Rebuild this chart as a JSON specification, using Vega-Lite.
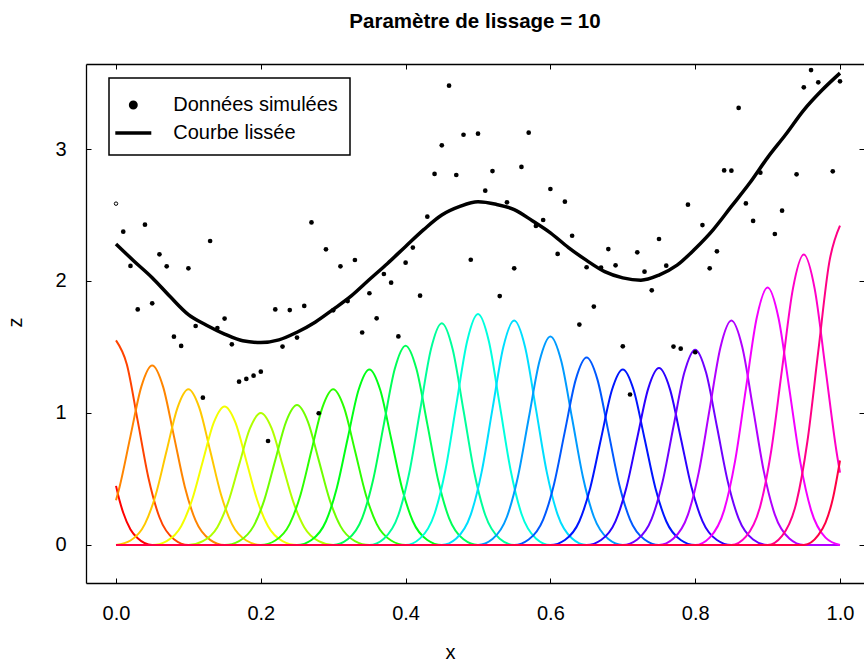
{
  "$schema": "https://vega.github.io/schema/vega-lite/v6.json",
  "width": 778,
  "height": 519,
  "autosize": "none",
  "padding": {"left": 86, "top": 64, "right": 0, "bottom": 82},
  "background": "white",
  "title": {"text": "Paramètre de lissage = 10", "font": "Liberation Sans", "fontSize": 20.5, "fontWeight": "bold", "color": "black", "anchor": "middle", "baseline": "alphabetic", "offset": 15},
  "config": {
    "view": {"stroke": null},
    "axis": {"grid": false, "domainColor": "black", "domainWidth": 1.3, "tickColor": "black", "tickWidth": 1, "tickSize": -5, "labelFont": "Liberation Sans", "labelFontSize": 20, "labelColor": "black", "titleFont": "Liberation Sans", "titleFontSize": 20, "titleFontWeight": "normal", "titleColor": "black"}
  },
  "datasets": {
    "basis": [
      {"i":0,"x":0,"z":0.448},{"i":0,"x":0.005,"z":0.335},{"i":0,"x":0.01,"z":0.244},{"i":0,"x":0.02,"z":0.118},{"i":0,"x":0.03,"z":0.051},{"i":0,"x":0.05,"z":0},{"i":0,"x":1,"z":0},
      {"i":1,"x":0,"z":1.55},{"i":1,"x":0.015,"z":1.368},{"i":1,"x":0.03,"z":0.94},{"i":1,"x":0.045,"z":0.503},{"i":1,"x":0.06,"z":0.21},{"i":1,"x":0.08,"z":0.044},{"i":1,"x":0.1,"z":0},{"i":1,"x":1,"z":0},
      {"i":2,"x":0,"z":0.339},{"i":2,"x":0.005,"z":0.442},{"i":2,"x":0.02,"z":0.825},{"i":2,"x":0.035,"z":1.2},{"i":2,"x":0.05,"z":1.36},{"i":2,"x":0.065,"z":1.2},{"i":2,"x":0.08,"z":0.825},{"i":2,"x":0.095,"z":0.442},{"i":2,"x":0.11,"z":0.184},{"i":2,"x":0.13,"z":0.039},{"i":2,"x":0.15,"z":0},{"i":2,"x":1,"z":0},
      {"i":3,"x":0,"z":0},{"i":3,"x":0.02,"z":0.034},{"i":3,"x":0.04,"z":0.16},{"i":3,"x":0.055,"z":0.383},{"i":3,"x":0.07,"z":0.716},{"i":3,"x":0.085,"z":1.041},{"i":3,"x":0.1,"z":1.18},{"i":3,"x":0.115,"z":1.041},{"i":3,"x":0.13,"z":0.716},{"i":3,"x":0.145,"z":0.383},{"i":3,"x":0.16,"z":0.16},{"i":3,"x":0.18,"z":0.034},{"i":3,"x":0.2,"z":0},{"i":3,"x":1,"z":0},
      {"i":4,"x":0,"z":0},{"i":4,"x":0.05,"z":0},{"i":4,"x":0.07,"z":0.03},{"i":4,"x":0.09,"z":0.142},{"i":4,"x":0.105,"z":0.341},{"i":4,"x":0.12,"z":0.637},{"i":4,"x":0.135,"z":0.927},{"i":4,"x":0.15,"z":1.05},{"i":4,"x":0.165,"z":0.927},{"i":4,"x":0.18,"z":0.637},{"i":4,"x":0.195,"z":0.341},{"i":4,"x":0.21,"z":0.142},{"i":4,"x":0.23,"z":0.03},{"i":4,"x":0.25,"z":0},{"i":4,"x":1,"z":0},
      {"i":5,"x":0,"z":0},{"i":5,"x":0.1,"z":0},{"i":5,"x":0.12,"z":0.029},{"i":5,"x":0.14,"z":0.135},{"i":5,"x":0.155,"z":0.325},{"i":5,"x":0.17,"z":0.607},{"i":5,"x":0.185,"z":0.883},{"i":5,"x":0.2,"z":1.0},{"i":5,"x":0.215,"z":0.883},{"i":5,"x":0.23,"z":0.607},{"i":5,"x":0.245,"z":0.325},{"i":5,"x":0.26,"z":0.135},{"i":5,"x":0.28,"z":0.029},{"i":5,"x":0.3,"z":0},{"i":5,"x":1,"z":0},
      {"i":6,"x":0,"z":0},{"i":6,"x":0.15,"z":0},{"i":6,"x":0.17,"z":0.03},{"i":6,"x":0.19,"z":0.143},{"i":6,"x":0.205,"z":0.344},{"i":6,"x":0.22,"z":0.643},{"i":6,"x":0.235,"z":0.935},{"i":6,"x":0.25,"z":1.06},{"i":6,"x":0.265,"z":0.935},{"i":6,"x":0.28,"z":0.643},{"i":6,"x":0.295,"z":0.344},{"i":6,"x":0.31,"z":0.143},{"i":6,"x":0.33,"z":0.03},{"i":6,"x":0.35,"z":0},{"i":6,"x":1,"z":0},
      {"i":7,"x":0,"z":0},{"i":7,"x":0.2,"z":0},{"i":7,"x":0.22,"z":0.034},{"i":7,"x":0.24,"z":0.16},{"i":7,"x":0.255,"z":0.383},{"i":7,"x":0.27,"z":0.716},{"i":7,"x":0.285,"z":1.041},{"i":7,"x":0.3,"z":1.18},{"i":7,"x":0.315,"z":1.041},{"i":7,"x":0.33,"z":0.716},{"i":7,"x":0.345,"z":0.383},{"i":7,"x":0.36,"z":0.16},{"i":7,"x":0.38,"z":0.034},{"i":7,"x":0.4,"z":0},{"i":7,"x":1,"z":0},
      {"i":8,"x":0,"z":0},{"i":8,"x":0.25,"z":0},{"i":8,"x":0.27,"z":0.038},{"i":8,"x":0.29,"z":0.18},{"i":8,"x":0.305,"z":0.432},{"i":8,"x":0.32,"z":0.807},{"i":8,"x":0.335,"z":1.174},{"i":8,"x":0.35,"z":1.33},{"i":8,"x":0.365,"z":1.174},{"i":8,"x":0.38,"z":0.807},{"i":8,"x":0.395,"z":0.432},{"i":8,"x":0.41,"z":0.18},{"i":8,"x":0.43,"z":0.038},{"i":8,"x":0.45,"z":0},{"i":8,"x":1,"z":0},
      {"i":9,"x":0,"z":0},{"i":9,"x":0.3,"z":0},{"i":9,"x":0.32,"z":0.043},{"i":9,"x":0.34,"z":0.204},{"i":9,"x":0.355,"z":0.49},{"i":9,"x":0.37,"z":0.916},{"i":9,"x":0.385,"z":1.333},{"i":9,"x":0.4,"z":1.51},{"i":9,"x":0.415,"z":1.333},{"i":9,"x":0.43,"z":0.916},{"i":9,"x":0.445,"z":0.49},{"i":9,"x":0.46,"z":0.204},{"i":9,"x":0.48,"z":0.043},{"i":9,"x":0.5,"z":0},{"i":9,"x":1,"z":0},
      {"i":10,"x":0,"z":0},{"i":10,"x":0.35,"z":0},{"i":10,"x":0.37,"z":0.048},{"i":10,"x":0.39,"z":0.227},{"i":10,"x":0.405,"z":0.545},{"i":10,"x":0.42,"z":1.019},{"i":10,"x":0.435,"z":1.483},{"i":10,"x":0.45,"z":1.68},{"i":10,"x":0.465,"z":1.483},{"i":10,"x":0.48,"z":1.019},{"i":10,"x":0.495,"z":0.545},{"i":10,"x":0.51,"z":0.227},{"i":10,"x":0.53,"z":0.048},{"i":10,"x":0.55,"z":0},{"i":10,"x":1,"z":0},
      {"i":11,"x":0,"z":0},{"i":11,"x":0.4,"z":0},{"i":11,"x":0.42,"z":0.05},{"i":11,"x":0.44,"z":0.237},{"i":11,"x":0.455,"z":0.568},{"i":11,"x":0.47,"z":1.061},{"i":11,"x":0.485,"z":1.544},{"i":11,"x":0.5,"z":1.75},{"i":11,"x":0.515,"z":1.544},{"i":11,"x":0.53,"z":1.061},{"i":11,"x":0.545,"z":0.568},{"i":11,"x":0.56,"z":0.237},{"i":11,"x":0.58,"z":0.05},{"i":11,"x":0.6,"z":0},{"i":11,"x":1,"z":0},
      {"i":12,"x":0,"z":0},{"i":12,"x":0.45,"z":0},{"i":12,"x":0.47,"z":0.049},{"i":12,"x":0.49,"z":0.23},{"i":12,"x":0.505,"z":0.552},{"i":12,"x":0.52,"z":1.031},{"i":12,"x":0.535,"z":1.5},{"i":12,"x":0.55,"z":1.7},{"i":12,"x":0.565,"z":1.5},{"i":12,"x":0.58,"z":1.031},{"i":12,"x":0.595,"z":0.552},{"i":12,"x":0.61,"z":0.23},{"i":12,"x":0.63,"z":0.049},{"i":12,"x":0.65,"z":0},{"i":12,"x":1,"z":0},
      {"i":13,"x":0,"z":0},{"i":13,"x":0.5,"z":0},{"i":13,"x":0.52,"z":0.045},{"i":13,"x":0.54,"z":0.214},{"i":13,"x":0.555,"z":0.513},{"i":13,"x":0.57,"z":0.958},{"i":13,"x":0.585,"z":1.394},{"i":13,"x":0.6,"z":1.58},{"i":13,"x":0.615,"z":1.394},{"i":13,"x":0.63,"z":0.958},{"i":13,"x":0.645,"z":0.513},{"i":13,"x":0.66,"z":0.214},{"i":13,"x":0.68,"z":0.045},{"i":13,"x":0.7,"z":0},{"i":13,"x":1,"z":0},
      {"i":14,"x":0,"z":0},{"i":14,"x":0.55,"z":0},{"i":14,"x":0.57,"z":0.041},{"i":14,"x":0.59,"z":0.192},{"i":14,"x":0.605,"z":0.461},{"i":14,"x":0.62,"z":0.861},{"i":14,"x":0.635,"z":1.253},{"i":14,"x":0.65,"z":1.42},{"i":14,"x":0.665,"z":1.253},{"i":14,"x":0.68,"z":0.861},{"i":14,"x":0.695,"z":0.461},{"i":14,"x":0.71,"z":0.192},{"i":14,"x":0.73,"z":0.041},{"i":14,"x":0.75,"z":0},{"i":14,"x":1,"z":0},
      {"i":15,"x":0,"z":0},{"i":15,"x":0.6,"z":0},{"i":15,"x":0.62,"z":0.038},{"i":15,"x":0.64,"z":0.18},{"i":15,"x":0.655,"z":0.432},{"i":15,"x":0.67,"z":0.807},{"i":15,"x":0.685,"z":1.174},{"i":15,"x":0.7,"z":1.33},{"i":15,"x":0.715,"z":1.174},{"i":15,"x":0.73,"z":0.807},{"i":15,"x":0.745,"z":0.432},{"i":15,"x":0.76,"z":0.18},{"i":15,"x":0.78,"z":0.038},{"i":15,"x":0.8,"z":0},{"i":15,"x":1,"z":0},
      {"i":16,"x":0,"z":0},{"i":16,"x":0.65,"z":0},{"i":16,"x":0.67,"z":0.038},{"i":16,"x":0.69,"z":0.181},{"i":16,"x":0.705,"z":0.435},{"i":16,"x":0.72,"z":0.813},{"i":16,"x":0.735,"z":1.183},{"i":16,"x":0.75,"z":1.34},{"i":16,"x":0.765,"z":1.183},{"i":16,"x":0.78,"z":0.813},{"i":16,"x":0.795,"z":0.435},{"i":16,"x":0.81,"z":0.181},{"i":16,"x":0.83,"z":0.038},{"i":16,"x":0.85,"z":0},{"i":16,"x":1,"z":0},
      {"i":17,"x":0,"z":0},{"i":17,"x":0.7,"z":0},{"i":17,"x":0.72,"z":0.042},{"i":17,"x":0.74,"z":0.2},{"i":17,"x":0.755,"z":0.481},{"i":17,"x":0.77,"z":0.898},{"i":17,"x":0.785,"z":1.306},{"i":17,"x":0.8,"z":1.48},{"i":17,"x":0.815,"z":1.306},{"i":17,"x":0.83,"z":0.898},{"i":17,"x":0.845,"z":0.481},{"i":17,"x":0.86,"z":0.2},{"i":17,"x":0.88,"z":0.042},{"i":17,"x":0.9,"z":0},{"i":17,"x":1,"z":0},
      {"i":18,"x":0,"z":0},{"i":18,"x":0.75,"z":0},{"i":18,"x":0.77,"z":0.049},{"i":18,"x":0.79,"z":0.23},{"i":18,"x":0.805,"z":0.552},{"i":18,"x":0.82,"z":1.031},{"i":18,"x":0.835,"z":1.5},{"i":18,"x":0.85,"z":1.7},{"i":18,"x":0.865,"z":1.5},{"i":18,"x":0.88,"z":1.031},{"i":18,"x":0.895,"z":0.552},{"i":18,"x":0.91,"z":0.23},{"i":18,"x":0.93,"z":0.049},{"i":18,"x":0.95,"z":0},{"i":18,"x":1,"z":0},
      {"i":19,"x":0,"z":0},{"i":19,"x":0.8,"z":0},{"i":19,"x":0.82,"z":0.056},{"i":19,"x":0.84,"z":0.264},{"i":19,"x":0.855,"z":0.633},{"i":19,"x":0.87,"z":1.183},{"i":19,"x":0.885,"z":1.721},{"i":19,"x":0.9,"z":1.95},{"i":19,"x":0.915,"z":1.721},{"i":19,"x":0.93,"z":1.183},{"i":19,"x":0.945,"z":0.633},{"i":19,"x":0.96,"z":0.264},{"i":19,"x":0.98,"z":0.056},{"i":19,"x":1,"z":0},
      {"i":20,"x":0,"z":0},{"i":20,"x":0.85,"z":0},{"i":20,"x":0.87,"z":0.063},{"i":20,"x":0.89,"z":0.298},{"i":20,"x":0.905,"z":0.714},{"i":20,"x":0.92,"z":1.334},{"i":20,"x":0.935,"z":1.942},{"i":20,"x":0.95,"z":2.2},{"i":20,"x":0.965,"z":1.942},{"i":20,"x":0.98,"z":1.334},{"i":20,"x":0.995,"z":0.714},{"i":20,"x":1,"z":0.548},
      {"i":21,"x":0,"z":0},{"i":21,"x":0.9,"z":0},{"i":21,"x":0.92,"z":0.069},{"i":21,"x":0.94,"z":0.327},{"i":21,"x":0.955,"z":0.786},{"i":21,"x":0.97,"z":1.468},{"i":21,"x":0.985,"z":2.136},{"i":21,"x":1,"z":2.42},
      {"i":22,"x":0,"z":0},{"i":22,"x":0.95,"z":0},{"i":22,"x":0.97,"z":0.074},{"i":22,"x":0.98,"z":0.169},{"i":22,"x":0.99,"z":0.348},{"i":22,"x":1,"z":0.64}
    ],
    "smooth": [
      {"x":0,"z":2.28},{"x":0.025,"z":2.15},{"x":0.05,"z":2.025},{"x":0.075,"z":1.88},{"x":0.1,"z":1.745},{"x":0.125,"z":1.665},{"x":0.15,"z":1.598},{"x":0.175,"z":1.547},{"x":0.2,"z":1.534},{"x":0.225,"z":1.554},{"x":0.25,"z":1.612},{"x":0.275,"z":1.688},{"x":0.3,"z":1.785},{"x":0.325,"z":1.887},{"x":0.35,"z":2.011},{"x":0.375,"z":2.133},{"x":0.4,"z":2.262},{"x":0.425,"z":2.389},{"x":0.45,"z":2.5},{"x":0.475,"z":2.565},{"x":0.5,"z":2.6},{"x":0.525,"z":2.581},{"x":0.55,"z":2.541},{"x":0.575,"z":2.457},{"x":0.6,"z":2.365},{"x":0.625,"z":2.253},{"x":0.65,"z":2.156},{"x":0.675,"z":2.071},{"x":0.7,"z":2.024},{"x":0.725,"z":2.006},{"x":0.75,"z":2.045},{"x":0.775,"z":2.12},{"x":0.8,"z":2.245},{"x":0.825,"z":2.39},{"x":0.85,"z":2.565},{"x":0.875,"z":2.74},{"x":0.9,"z":2.935},{"x":0.925,"z":3.11},{"x":0.95,"z":3.295},{"x":0.975,"z":3.445},{"x":1,"z":3.575}
    ],
    "pts": [
      {"x":0.01,"z":2.374},{"x":0.02,"z":2.114},{"x":0.03,"z":1.785},{"x":0.04,"z":2.427},{"x":0.05,"z":1.831},{"x":0.06,"z":2.202},{"x":0.07,"z":2.111},{"x":0.08,"z":1.578},{"x":0.09,"z":1.508},{"x":0.1,"z":2.096},
      {"x":0.11,"z":1.659},{"x":0.12,"z":1.116},{"x":0.13,"z":2.303},{"x":0.14,"z":1.644},{"x":0.15,"z":1.715},{"x":0.16,"z":1.52},{"x":0.17,"z":1.237},{"x":0.18,"z":1.258},{"x":0.19,"z":1.283},{"x":0.2,"z":1.313},
      {"x":0.21,"z":0.788},{"x":0.22,"z":1.785},{"x":0.23,"z":1.503},{"x":0.24,"z":1.78},{"x":0.25,"z":1.571},{"x":0.26,"z":1.811},{"x":0.27,"z":2.444},{"x":0.28,"z":0.998},{"x":0.29,"z":2.24},{"x":0.3,"z":1.778},
      {"x":0.31,"z":2.111},{"x":0.32,"z":1.848},{"x":0.33,"z":2.159},{"x":0.34,"z":1.61},{"x":0.35,"z":1.907},{"x":0.36,"z":1.717},{"x":0.37,"z":2.053},{"x":0.38,"z":1.987},{"x":0.39,"z":1.58},{"x":0.4,"z":2.139},
      {"x":0.41,"z":2.253},{"x":0.42,"z":1.889},{"x":0.43,"z":2.487},{"x":0.44,"z":2.811},{"x":0.45,"z":3.028},{"x":0.46,"z":3.48},{"x":0.47,"z":2.803},{"x":0.48,"z":3.108},{"x":0.49,"z":2.161},{"x":0.5,"z":3.116},
      {"x":0.51,"z":2.684},{"x":0.52,"z":2.833},{"x":0.53,"z":1.886},{"x":0.54,"z":2.596},{"x":0.55,"z":2.096},{"x":0.56,"z":2.864},{"x":0.57,"z":3.124},{"x":0.58,"z":2.417},{"x":0.59,"z":2.462},{"x":0.6,"z":2.697},
      {"x":0.61,"z":2.205},{"x":0.62,"z":2.601},{"x":0.63,"z":2.343},{"x":0.64,"z":1.67},{"x":0.65,"z":2.104},{"x":0.66,"z":1.806},{"x":0.67,"z":2.101},{"x":0.68,"z":2.242},{"x":0.69,"z":2.119},{"x":0.7,"z":1.505},
      {"x":0.71,"z":1.14},{"x":0.72,"z":2.217},{"x":0.73,"z":2.071},{"x":0.74,"z":1.929},{"x":0.75,"z":2.318},{"x":0.76,"z":2.116},{"x":0.77,"z":1.503},{"x":0.78,"z":1.487},{"x":0.79,"z":2.578},{"x":0.8,"z":1.46},
      {"x":0.81,"z":2.424},{"x":0.82,"z":2.096},{"x":0.83,"z":2.225},{"x":0.84,"z":2.838},{"x":0.85,"z":2.836},{"x":0.86,"z":3.311},{"x":0.87,"z":2.588},{"x":0.88,"z":2.455},{"x":0.89,"z":2.821},
      {"x":0.91,"z":2.356},{"x":0.92,"z":2.533},{"x":0.94,"z":2.808},{"x":0.95,"z":3.467},{"x":0.96,"z":3.598},{"x":0.97,"z":3.505},{"x":0.99,"z":2.831},{"x":1.0,"z":3.513}
    ],
    "first": [{"x":0,"z":2.586}]
  },
  "layer": [
    {
      "data": {"name": "basis"},
      "mark": {"type": "line", "strokeWidth": 2, "interpolate": "monotone"},
      "encoding": {
        "x": {"field": "x", "type": "quantitative", "scale": {"domain": [-0.04144, 1.03315], "nice": false, "zero": false},
              "axis": {"orient": "bottom", "values": [0, 0.2, 0.4, 0.6, 0.8, 1], "format": ".1f", "labelPadding": 25, "labelFlush": false, "labelOverlap": false, "title": "x", "titleX": 364, "titleY": 69, "titleBaseline": "middle", "titleAlign": "center"}},
        "y": {"field": "z", "type": "quantitative", "scale": {"domain": [-0.288, 3.644], "nice": false, "zero": false},
              "axis": {"orient": "left", "values": [0, 1, 2, 3], "format": "d", "labelPadding": 25, "labelAngle": 0, "labelFlush": false, "labelOverlap": false, "title": "z", "titleX": -71, "titleY": 258, "titleAngle": 270, "titleBaseline": "middle", "titleAlign": "center"}},
        "stroke": {"field": "i", "type": "nominal", "legend": null,
                   "scale": {"domain": [0,1,2,3,4,5,6,7,8,9,10,11,12,13,14,15,16,17,18,19,20,21,22],
                             "range": ["#FF0000","#FF4300","#FF8500","#FFC800","#F4FF00","#B1FF00","#6FFF00","#2CFF00","#00FF16","#00FF59","#00FF9B","#00FFDE","#00DEFF","#009BFF","#0059FF","#0016FF","#2C00FF","#6F00FF","#B100FF","#F400FF","#FF00C8","#FF0085","#FF0043"]}}
      }
    },
    {
      "data": {"name": "smooth"},
      "mark": {"type": "line", "strokeWidth": 3.5, "interpolate": "monotone"},
      "encoding": {
        "x": {"field": "x", "type": "quantitative", "scale": {"domain": [-0.04144, 1.03315], "nice": false, "zero": false},
              "axis": {"orient": "top", "values": [0, 0.2, 0.4, 0.6, 0.8, 1], "labels": false, "title": null}},
        "y": {"field": "z", "type": "quantitative", "scale": {"domain": [-0.288, 3.644], "nice": false, "zero": false},
              "axis": {"orient": "right", "values": [0, 1, 2, 3], "labels": false, "domain": false, "title": null}},
        "color": {"datum": "Courbe lissée",
                  "scale": {"domain": ["Données simulées", "Courbe lissée"], "range": ["black", "black"]},
                  "legend": {"orient": "none", "legendX": 23, "legendY": 14, "title": " ", "titleFontSize": 2, "titlePadding": 3, "padding": 12,
                             "strokeColor": "black", "fillColor": "white",
                             "labelFont": "Liberation Sans", "labelFontSize": 20, "labelColor": "black", "labelOffset": 30, "labelLimit": 400,
                             "rowPadding": 8, "symbolSize": 256, "symbolStrokeWidth": 3.5, "symbolOffset": 2.3,
                             "encode": {
                               "symbols": {"update": {
                                 "shape": {"signal": "datum.value === 'Courbe lissée' ? 'M-2.25,0H2.25' : 'M-0.34,0A0.34,0.34,0,1,0,0.34,0A0.34,0.34,0,1,0,-0.34,0Z'"},
                                 "fill": {"signal": "datum.value === 'Courbe lissée' ? 'transparent' : 'black'"},
                                 "stroke": {"signal": "datum.value === 'Courbe lissée' ? 'black' : 'transparent'"},
                                 "strokeWidth": {"value": 3.5},
                                 "opacity": {"value": 1}
                               }},
                               "legend": {"update": {"strokeWidth": {"value": 1.5}}}
                             }}}
      }
    },
    {
      "data": {"name": "pts"},
      "mark": {"type": "point", "filled": true, "size": 22, "opacity": 1},
      "encoding": {
        "x": {"field": "x", "type": "quantitative", "scale": {"domain": [-0.04144, 1.03315], "nice": false, "zero": false}, "axis": null},
        "y": {"field": "z", "type": "quantitative", "scale": {"domain": [-0.288, 3.644], "nice": false, "zero": false}, "axis": null},
        "color": {"datum": "Données simulées"}
      }
    },
    {
      "data": {"name": "first"},
      "mark": {"type": "point", "filled": false, "size": 12, "strokeWidth": 1, "color": "black", "opacity": 1},
      "encoding": {
        "x": {"field": "x", "type": "quantitative", "scale": {"domain": [-0.04144, 1.03315], "nice": false, "zero": false}, "axis": null},
        "y": {"field": "z", "type": "quantitative", "scale": {"domain": [-0.288, 3.644], "nice": false, "zero": false}, "axis": null}
      }
    }
  ],
  "resolve": {"scale": {"x": "independent", "y": "independent"}, "axis": {"x": "independent", "y": "independent"}}
}
